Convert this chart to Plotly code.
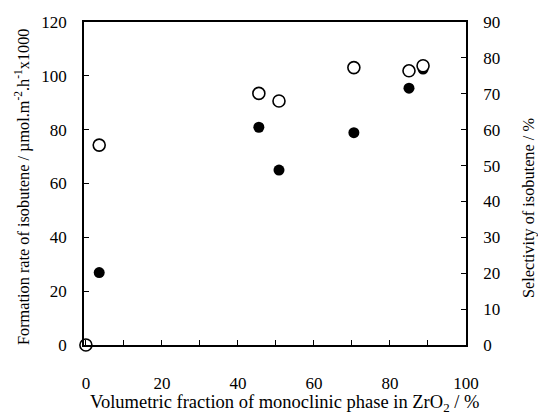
import plotly.graph_objects as go

# Formation rate (filled circles, left axis)
x_rate = [0, 3.5, 45.5, 50.8, 70.5, 85.0, 88.7]
rate = [0, 26.9, 80.9, 65.0, 78.9, 95.4, 102.5]

# Selectivity (open circles, right axis)
x_sel = [0, 3.5, 45.5, 50.8, 70.5, 85.0, 88.7]
sel = [0, 55.7, 70.1, 68.0, 77.3, 76.4, 77.8]

x_title = "Volumetric fraction of monoclinic phase in ZrO<sub>2</sub> / %"
y_title = "Formation rate of isobutene / µmol.m<sup>-2</sup>.h<sup>-1</sup>x1000"
y2_title = "Selectivity of isobutene / %"

FONT = "Liberation Serif"
L, R, T, B = 84, 72, 22, 69
W, H = 538, 414
PW, PH = W - L - R, H - T - B


def px_to_paper_x(px):
    return (px - L) / PW


def px_to_paper_y(py):
    return (H - B - py) / PH


fig = go.Figure()
fig.add_trace(go.Scatter(
    x=x_rate, y=rate, mode="markers", yaxis="y", cliponaxis=False,
    marker=dict(symbol="circle", size=11, color="black", line=dict(width=0)),
    showlegend=False))
fig.add_trace(go.Scatter(
    x=x_sel, y=sel, mode="markers", yaxis="y2", cliponaxis=False,
    marker=dict(symbol="circle", size=12, color="white", line=dict(color="black", width=1.6)),
    showlegend=False))

tickfont = dict(family=FONT, size=17, color="black")

fig.update_layout(
    width=W, height=H,
    margin=dict(l=L, r=R, t=T, b=B),
    paper_bgcolor="white", plot_bgcolor="white",
    font=dict(family=FONT, size=17, color="black"),
    xaxis=dict(
        range=[-0.5, 100], tickvals=[0, 20, 40, 60, 80, 100], tickfont=tickfont,
        ticks="inside", ticklen=5, tickwidth=1, tickcolor="black",
        minor=dict(tickvals=[10, 30, 50, 70, 90], ticks="inside", ticklen=5, tickwidth=1, tickcolor="black"),
        showline=True, linecolor="black", linewidth=1.5, mirror=True,
        showgrid=False, zeroline=False, ticklabelstandoff=22,
    ),
    yaxis=dict(
        range=[0, 120], tickvals=[0, 20, 40, 60, 80, 100, 120], tickfont=tickfont,
        ticks="inside", ticklen=5, tickwidth=1, tickcolor="black",
        showline=True, linecolor="black", linewidth=1.5,
        showgrid=False, zeroline=False, ticklabelstandoff=12,
    ),
    yaxis2=dict(
        range=[0, 90], tickvals=list(range(0, 100, 10)), overlaying="y", side="right",
        tickfont=tickfont,
        ticks="inside", ticklen=5, tickwidth=1, tickcolor="black",
        showline=True, linecolor="black", linewidth=1.5,
        showgrid=False, zeroline=False, ticklabelstandoff=12,
    ),
    annotations=[
        dict(text=x_title, xref="paper", yref="paper",
             x=px_to_paper_x(284), y=px_to_paper_y(404), xanchor="center", yanchor="middle",
             showarrow=False, font=dict(family=FONT, size=18.5)),
        dict(text=y_title, xref="paper", yref="paper", textangle=-90,
             x=px_to_paper_x(22), y=px_to_paper_y(187), xanchor="center", yanchor="middle",
             showarrow=False, font=dict(family=FONT, size=16.3)),
        dict(text=y2_title, xref="paper", yref="paper", textangle=-90,
             x=px_to_paper_x(528), y=px_to_paper_y(208), xanchor="center", yanchor="middle",
             showarrow=False, font=dict(family=FONT, size=16.3)),
    ],
)

fig.write_html("out.html")
